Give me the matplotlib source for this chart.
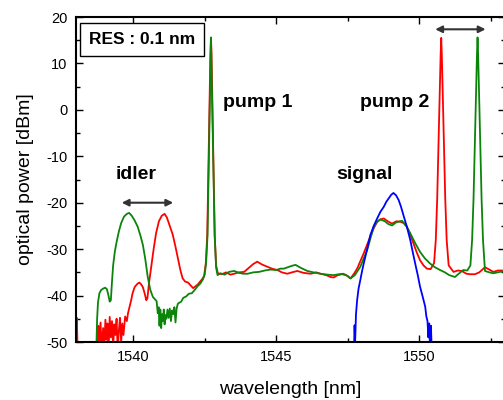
import matplotlib
matplotlib.use("Agg")
import matplotlib.pyplot as plt
from matplotlib.ticker import MultipleLocator

plt.rcParams['font.family'] = ['Liberation Sans', 'DejaVu Sans']
plt.rcParams['axes.unicode_minus'] = False

# red spectrum (wavelength nm, power dBm)
red_x = [1538.00, 1538.03, 1538.06, 1538.75, 1538.78, 1538.81, 1538.86, 1538.90, 1538.95, 1538.99,
         1539.03, 1539.07, 1539.10, 1539.14, 1539.18, 1539.22, 1539.26, 1539.30, 1539.34, 1539.38,
         1539.42, 1539.46, 1539.50, 1539.54, 1539.58, 1539.62, 1539.66, 1539.72, 1539.78, 1539.82,
         1539.87, 1539.93, 1539.98, 1540.05, 1540.10, 1540.16, 1540.22, 1540.28, 1540.34, 1540.40,
         1540.46, 1540.50, 1540.55, 1540.63, 1540.72, 1540.80, 1540.90, 1541.00, 1541.10, 1541.18,
         1541.28, 1541.38, 1541.47, 1541.56, 1541.65, 1541.73, 1541.82, 1541.92, 1542.02, 1542.10,
         1542.18, 1542.26, 1542.34, 1542.42, 1542.48, 1542.54, 1542.59, 1542.70, 1542.72, 1542.74,
         1542.85, 1542.90, 1542.96, 1543.10, 1543.25, 1543.40, 1543.53, 1543.70, 1543.88, 1544.05,
         1544.20, 1544.34, 1544.50, 1544.69, 1544.85, 1545.04, 1545.20, 1545.39, 1545.55, 1545.74,
         1545.95, 1546.20, 1546.40, 1546.55, 1546.75, 1546.90, 1547.01, 1547.15, 1547.30, 1547.45,
         1547.60, 1547.72, 1547.83, 1547.95, 1548.06, 1548.18, 1548.29, 1548.41, 1548.53, 1548.64,
         1548.76, 1548.90, 1549.05, 1549.20, 1549.34, 1549.46, 1549.57, 1549.68, 1549.80, 1549.92,
         1550.03, 1550.15, 1550.27, 1550.40, 1550.52, 1550.58, 1550.63, 1550.75, 1550.77, 1550.79,
         1550.91, 1550.96, 1551.03, 1551.20, 1551.35, 1551.49, 1551.65, 1551.78, 1551.95, 1552.10,
         1552.30, 1552.45, 1552.59, 1552.75, 1552.90, 1553.00]
red_y = [-52, -44.8, -52, -52, -46.5, -50.5, -45.8, -52, -47.0, -51,
         -45.2, -49.5, -46.0, -52, -44.6, -49.0, -45.5, -51, -46.2, -48.5,
         -45.0, -52, -47.5, -44.8, -50, -46, -48.5, -44.5, -45.5, -43.8,
         -42.5, -41.0, -39.5, -38.2, -37.8, -37.4, -37.2, -37.6, -38.2, -39.5,
         -41.0, -40.5, -37.5, -33.8, -29.8, -26.6, -24.0, -22.8, -22.4, -23.2,
         -25.0, -26.8, -29.2, -31.8, -34.5, -36.3, -37.0, -37.2, -37.9, -38.4,
         -38.0, -37.6, -37.0, -36.4, -35.8, -33.0, -27.0, 12.0, 15.5, 12.0,
         -27.0, -33.5, -35.2, -35.4, -35.0, -35.5, -35.3, -35.0, -34.9, -34.0,
         -33.2, -32.7, -33.3, -33.8, -34.2, -34.5, -35.0, -35.3, -35.0, -34.7,
         -35.1, -35.3, -35.0, -35.3, -35.6, -36.0, -36.1, -35.6, -35.4, -35.6,
         -36.3, -35.3, -34.2, -32.5, -30.9, -29.0, -27.3, -25.5, -24.1, -23.6,
         -23.4, -24.0, -24.5, -24.0, -24.1, -24.4, -25.2, -26.8, -28.8, -30.8,
         -32.4, -33.5, -34.2, -34.3, -33.0, -28.0, -19.0, 12.0, 15.5, 12.0,
         -19.0, -28.0, -33.5, -34.9, -34.6, -34.7, -35.3, -35.4, -35.4, -35.0,
         -33.9, -34.4, -34.9, -34.6, -34.6, -34.8]

# green spectrum
green_x = [1538.71, 1538.74, 1538.77, 1538.82, 1538.88, 1538.95, 1539.02, 1539.08, 1539.13, 1539.18,
           1539.22, 1539.26, 1539.30, 1539.36, 1539.42, 1539.50, 1539.58, 1539.68, 1539.78, 1539.86,
           1539.95, 1540.05, 1540.16, 1540.25, 1540.34, 1540.42, 1540.51, 1540.60, 1540.69, 1540.76,
           1540.82, 1540.86, 1540.89, 1540.92, 1540.95, 1540.98, 1541.01, 1541.04, 1541.07, 1541.10,
           1541.13, 1541.16, 1541.20, 1541.24, 1541.28, 1541.32, 1541.36, 1541.40, 1541.44, 1541.48,
           1541.52, 1541.56, 1541.62, 1541.68, 1541.75, 1541.85, 1541.95, 1542.05, 1542.15, 1542.25,
           1542.35, 1542.44, 1542.50, 1542.55, 1542.60, 1542.71, 1542.72, 1542.73, 1542.85, 1542.90,
           1542.95, 1543.05, 1543.20, 1543.35, 1543.53, 1543.70, 1543.85, 1544.00, 1544.20, 1544.40,
           1544.60, 1544.80, 1545.00, 1545.15, 1545.27, 1545.45, 1545.60, 1545.68, 1545.85, 1546.09,
           1546.30, 1546.55, 1546.80, 1547.01, 1547.20, 1547.35, 1547.50, 1547.60, 1547.75, 1547.94,
           1548.06, 1548.18, 1548.30, 1548.41, 1548.52, 1548.64, 1548.80, 1548.92, 1549.05, 1549.20,
           1549.40, 1549.55, 1549.69, 1549.85, 1550.03, 1550.20, 1550.38, 1550.55, 1550.73, 1550.90,
           1551.05, 1551.25, 1551.40, 1551.54, 1551.68, 1551.79, 1551.85, 1551.90, 1552.02, 1552.04,
           1552.06, 1552.18, 1552.23, 1552.30, 1552.45, 1552.59, 1552.75, 1552.90, 1553.00]
green_y = [-52, -45, -41.5, -39.5, -38.8, -38.5, -38.3, -38.6, -39.8, -41.3,
           -41.0, -37.0, -33.5, -30.5, -28.5, -26.2, -24.4, -23.0, -22.4, -22.2,
           -22.8, -23.8, -25.2, -27.0, -29.1, -32.0, -36.0, -38.8, -40.3, -40.8,
           -41.2, -43.8, -42.5, -46.5, -43.0, -47.0, -44.0, -45.5, -43.0, -46.2,
           -44.2, -45.0, -43.0, -44.8, -42.8, -45.5, -43.2, -44.0, -42.5, -45.8,
           -42.8, -41.8, -41.5, -41.3, -40.5, -40.2, -39.6, -39.5, -38.8, -38.0,
           -37.4, -36.5, -35.5, -33.0, -27.0, 12.0, 15.6, 12.0, -27.0, -34.0,
           -35.6, -35.2, -35.5, -34.9, -34.7, -35.1, -35.3, -35.3, -35.0, -34.9,
           -34.6, -34.4, -34.5, -34.2, -34.2, -33.8, -33.5, -33.4, -34.0, -34.7,
           -35.0, -35.3, -35.5, -35.6, -35.4, -35.3, -35.8, -36.3, -35.6, -33.8,
           -32.0, -30.2, -27.6, -25.2, -24.2, -23.6, -24.0, -24.6, -24.9, -24.2,
           -23.9, -25.0, -26.6, -28.6, -30.6, -32.0, -33.1, -33.9, -34.5, -35.0,
           -35.6, -36.0, -35.2, -34.5, -34.6, -33.5, -28.0, -19.0, 12.0, 15.6,
           12.0, -19.0, -28.0, -34.7, -35.0, -35.2, -35.0, -34.8, -35.0]

# blue spectrum (signal only)
blue_x = [1547.72, 1547.74, 1547.76, 1547.79, 1547.83, 1547.88, 1547.94, 1548.00, 1548.06, 1548.18,
          1548.29, 1548.41, 1548.53, 1548.64, 1548.76, 1548.85, 1548.93, 1549.02, 1549.10, 1549.19,
          1549.28, 1549.36, 1549.45, 1549.57, 1549.69, 1549.78, 1549.86, 1549.95, 1550.03, 1550.12,
          1550.21, 1550.25, 1550.29, 1550.32, 1550.35, 1550.38, 1550.41, 1550.44]
blue_y = [-52, -46.4, -50, -44.0, -41.0, -38.5, -36.7, -34.8, -33.1, -30.0,
          -27.0, -25.0, -23.4, -22.0, -20.9, -19.8, -19.1, -18.3, -17.9, -18.4,
          -19.4, -20.8, -22.7, -25.2, -28.1, -30.8, -33.1, -35.6, -38.1, -40.2,
          -42.4, -44.5, -45.5, -49.0, -46.0, -52, -46.5, -52]

labels = ["idler", "pump 1", "signal", "pump 2"]
label_x = [1540.1, 1544.35, 1548.1, 1549.15]
label_y = [-14.0, 1.5, -14.0, 1.5]

fig = plt.figure(figsize=(5.03, 4.0), dpi=100)
ax = fig.add_axes([0.151, 0.145, 0.853, 0.8125])

ax.plot(red_x, red_y, color='#ff0000', lw=1.3)
ax.plot(green_x, green_y, color='#0a850a', lw=1.3)
ax.plot(blue_x, blue_y, color='#0000ff', lw=1.3)

ax.set_xlim(1538, 1553)
ax.set_ylim(-50, 20)
ax.xaxis.set_major_locator(MultipleLocator(5))
ax.xaxis.set_minor_locator(MultipleLocator(2.5))
ax.yaxis.set_major_locator(MultipleLocator(10))
ax.yaxis.set_minor_locator(MultipleLocator(5))
ax.tick_params(which='both', direction='in', top=True, right=True, labelsize=10.5, width=1.0)
ax.tick_params(which='major', length=5, pad=6)
ax.tick_params(which='minor', length=3)
for s in ax.spines.values():
    s.set_linewidth(1.5)

ax.set_xlabel("wavelength [nm]", fontsize=14, labelpad=12)
ax.set_ylabel("optical power [dBm]", fontsize=14, labelpad=9)

for t, x, y in zip(labels, label_x, label_y):
    ax.text(x, y, t, fontsize=14, fontweight='bold', ha='center', va='center')

ax.text(0.154, 0.931, "RES : 0.1 nm", transform=ax.transAxes, fontsize=12.5, fontweight='bold',
        ha='center', va='center',
        bbox=dict(boxstyle='square,pad=0.5', fc='white', ec='black', lw=1.0))

arrow = dict(arrowstyle='<|-|>', color='#333333', lw=1.5, mutation_scale=10, shrinkA=0, shrinkB=0)
ax.annotate("", xy=(1541.4, -20), xytext=(1539.6, -20), arrowprops=arrow)
ax.annotate("", xy=(1552.32, 17.35), xytext=(1550.56, 17.35), arrowprops=arrow)

fig.savefig("out.png", dpi=100)
